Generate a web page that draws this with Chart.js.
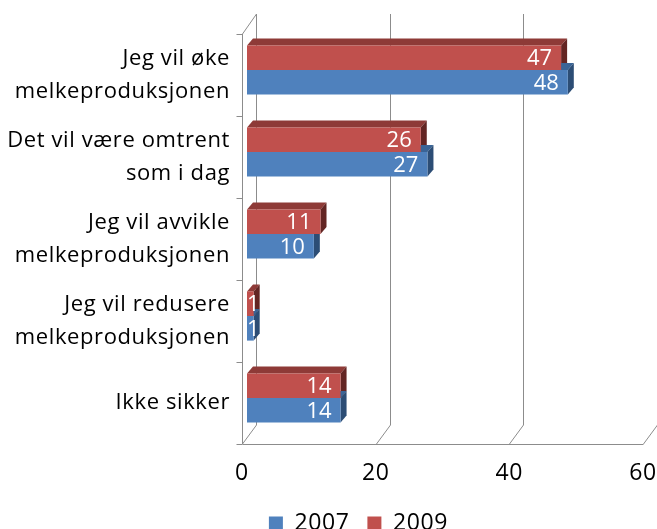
<!DOCTYPE html>
<html>
<head>
<meta charset="utf-8">
<script src="https://cdn.jsdelivr.net/npm/chart.js@4"></script>
<style>
  html, body { margin: 0; padding: 0; background: #fff; overflow: hidden; }
  #wrap { width: 657px; height: 545px; }
</style>
</head>
<body>
<div id="wrap"><canvas id="chart"></canvas></div>
<script>
// Data
const categories = [
    ["Jeg vil øke", "melkeproduksjonen"],
    ["Det vil være omtrent", "som i dag"],
    ["Jeg vil avvikle", "melkeproduksjonen"],
    ["Jeg vil redusere", "melkeproduksjonen"],
    "Ikke sikker"
];
const values2007 = [48, 27, 10, 1, 14];
const values2009 = [47, 26, 11, 1, 14];
const xTicks = [0, 20, 40, 60];

const FONT = "'Open Sans', 'DejaVu Sans', sans-serif";

// colours for the 3d faces: [front, top, side]
const faces = {
    "2009": ["#C0504D", "#8E3A37", "#632523"],
    "2007": ["#4F81BD", "#3A6496", "#2C4D75"]
};

// back wall / floor / left wall drawn by hand
const wallPlugin = {
    id: 'wall3d',
    beforeDraw(chart) {
        // the original text is loosely spaced
        chart.ctx.letterSpacing = "0.6px";
    },
    afterLayout(chart) {
        // legend sits a bit right of the canvas centre
        chart.legend.left += 32;
        chart.legend.right += 32;
    },
    beforeDatasetsDraw(chart) {
        const ctx = chart.ctx;
        ctx.letterSpacing = "0px";
        const area = chart.chartArea;
        const xs = chart.scales.x;
        const fy = area.bottom + 5;      // front floor line
        const by = area.bottom - 14;     // back floor line
        const topFront = area.top + 5;
        const topBack = area.top - 15;
        ctx.save();
        ctx.strokeStyle = "#8c8c8c";
        ctx.lineWidth = 1;
        ctx.beginPath();
        xTicks.forEach(v => {
            const fx = Math.round(xs.getPixelForValue(v) - 5) + 0.5;
            ctx.moveTo(fx, fy);
            ctx.lineTo(fx + 14, by);
            ctx.moveTo(fx + 14, by);
            ctx.lineTo(fx + 14, topBack);
        });
        const x0 = Math.round(xs.getPixelForValue(0) - 5) + 0.5;
        const x1 = Math.round(xs.getPixelForValue(60) - 5) + 0.5;
        // front floor edge
        ctx.moveTo(x0, Math.round(fy) + 0.5);
        ctx.lineTo(x1, Math.round(fy) + 0.5);
        // left wall
        ctx.moveTo(x0, topFront);
        ctx.lineTo(x0, fy);
        ctx.moveTo(x0, topFront);
        ctx.lineTo(x0 + 14, topBack);
        // category ticks
        const band = (area.bottom - area.top) / categories.length;
        for (let i = 0; i <= categories.length; i++) {
            const ty = Math.round(topFront + i * band) + 0.5;
            ctx.moveTo(x0 - 6, ty);
            ctx.lineTo(x0, ty);
        }
        ctx.stroke();

        // top and side faces of the bars
        const dx = 6, dy = 7;
        chart.data.datasets.forEach((ds, i) => {
            const meta = chart.getDatasetMeta(i);
            const col = faces[ds.label];
            meta.data.forEach(bar => {
                const p = bar.getProps(['x', 'y', 'base', 'height'], true);
                const t = p.y - p.height / 2;
                const b = p.y + p.height / 2;
                ctx.fillStyle = col[1];
                ctx.beginPath();
                ctx.moveTo(p.base, t);
                ctx.lineTo(p.x, t);
                ctx.lineTo(p.x + dx, t - dy);
                ctx.lineTo(p.base + dx, t - dy);
                ctx.closePath();
                ctx.fill();
                ctx.fillStyle = col[2];
                ctx.beginPath();
                ctx.moveTo(p.x, t);
                ctx.lineTo(p.x + dx, t - dy);
                ctx.lineTo(p.x + dx, b - dy);
                ctx.lineTo(p.x, b);
                ctx.closePath();
                ctx.fill();
            });
        });
        ctx.restore();
    },
    afterDatasetsDraw(chart) {
        // value labels inside the bar end
        const ctx = chart.ctx;
        ctx.save();
        ctx.font = "22px " + FONT;
        ctx.fillStyle = "#ffffff";
        ctx.textAlign = "right";
        ctx.textBaseline = "middle";
        chart.data.datasets.forEach((ds, i) => {
            const meta = chart.getDatasetMeta(i);
            meta.data.forEach((bar, j) => {
                const p = bar.getProps(['x', 'y', 'base'], true);
                const txt = String(ds.data[j]);
                const w = ctx.measureText(txt).width;
                const rx = Math.max(p.x - 9, p.base + w);
                ctx.fillText(txt, rx, p.y + 1);
            });
        });
        ctx.restore();
        ctx.letterSpacing = "0.6px";
    }
};

const ctx = document.getElementById("chart").getContext("2d");
const chart = new Chart(ctx, {
    type: "bar",
    data: {
        labels: categories,
        datasets: [{
            label: "2009",
            data: values2009,
            backgroundColor: faces["2009"][0]
        }, {
            label: "2007",
            data: values2007,
            backgroundColor: faces["2007"][0]
        }]
    },
    options: {
        indexAxis: 'y',
        responsive: true,
        maintainAspectRatio: false,
        animation: false,
        categoryPercentage: 0.6,
        barPercentage: 1,
        layout: { padding: { left: 0, right: 9, top: 29, bottom: 0 } },
        scales: {
            x: {
                min: 0,
                max: 60,
                afterBuildTicks: (scale) => { scale.ticks = xTicks.map(v => ({ value: v })); },
                afterFit: (scale) => {
                    scale.height = 55;
                    scale.paddingLeft = 0;
                    scale.paddingRight = 0;
                },
                grid: { display: false, drawTicks: false },
                border: { display: false },
                ticks: {
                    padding: 21,
                    labelOffset: -5,
                    color: "#000",
                    font: { family: FONT, size: 23 }
                }
            },
            y: {
                afterFit: (scale) => {
                    scale.width = 247;
                    scale.paddingTop = 0;
                    scale.paddingBottom = 0;
                },
                grid: { display: false, drawTicks: false },
                border: { display: false },
                ticks: {
                    padding: 17,
                    labelOffset: 5,
                    color: "#000",
                    font: { family: FONT, size: 22, lineHeight: 1.5 }
                }
            }
        },
        plugins: {
            legend: {
                position: 'bottom',
                reverse: true,
                labels: {
                    boxWidth: 14,
                    boxHeight: 14,
                    padding: 18,
                    color: "#000",
                    font: { family: FONT, size: 23 }
                }
            },
            tooltip: { enabled: false }
        }
    },
    plugins: [wallPlugin]
});
</script>
</body>
</html>
